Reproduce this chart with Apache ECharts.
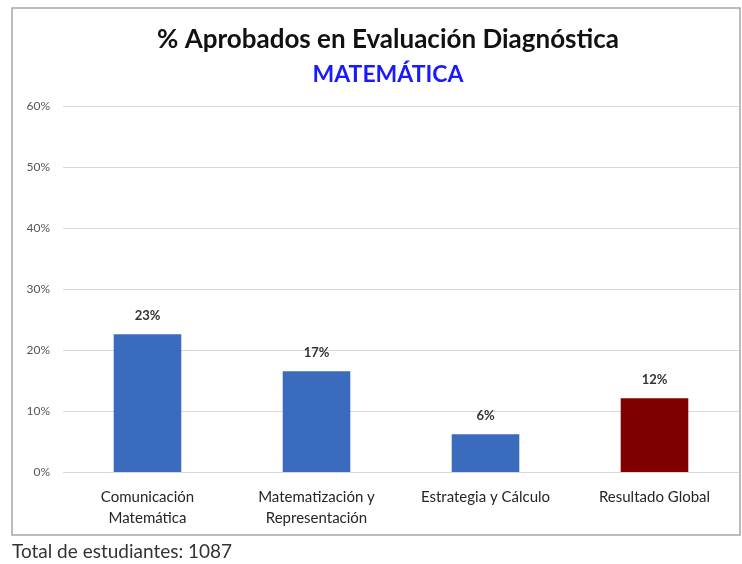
<!DOCTYPE html>
<html>
<head>
<meta charset="utf-8">
<script src="https://cdn.jsdelivr.net/npm/echarts@6/dist/echarts.min.js"></script>
<style>
  html, body { margin: 0; padding: 0; background: #fff; }
  #chart { width: 742px; height: 564px; }
</style>
</head>
<body>
<div id="chart"></div>
<script>
// categorias y valores (%)
var categorias = ['Comunicación\nMatemática', 'Matematización y\nRepresentación', 'Estrategia y Cálculo', 'Resultado Global'];
var valores = [22.6, 16.5, 6.2, 12.1];
var colores = ['#3b6bbd', '#3b6bbd', '#3b6bbd', '#7f0000'];
var ticksY = [0, 10, 20, 30, 40, 50, 60];
var totalEstudiantes = 1087;

var chart = echarts.init(document.getElementById('chart'));
var fuente = 'Lato, "Open Sans", sans-serif';

var option = {
  backgroundColor: '#fff',
  animation: false,
  title: [{
    text: '% Aprobados en Evaluación Diagnóstica',
    left: 383,
    textAlign: 'center',
    top: 22,
    textStyle: { fontFamily: fuente, fontSize: 26, fontWeight: 'bold', color: '#111' }
  }, {
    text: 'MATEMÁTICA',
    left: 383,
    textAlign: 'center',
    top: 58,
    textStyle: { fontFamily: fuente, fontSize: 23, fontWeight: 'bold', color: '#1a1aff' }
  }],
  grid: { left: 63, top: 106, width: 676, height: 366 },
  xAxis: {
    type: 'category',
    data: categorias,
    axisLine: { show: false },
    axisTick: { show: false },
    axisLabel: {
      interval: 0, margin: 15, color: '#262626', fontSize: 15, lineHeight: 21,
      fontFamily: fuente
    }
  },
  yAxis: {
    type: 'value',
    min: ticksY[0],
    max: ticksY[ticksY.length - 1],
    interval: 10,
    axisLine: { show: false },
    axisTick: { show: false },
    axisLabel: {
      formatter: '{value}%', color: '#555', fontSize: 12, margin: 13,
      fontFamily: fuente
    },
    splitLine: { lineStyle: { color: '#d9d9d9', width: 1.2 } }
  },
  series: [{
    type: 'bar',
    barWidth: '40%',
    data: valores.map(function (v, i) {
      return { value: v, itemStyle: { color: colores[i] } };
    }),
    label: {
      show: true, position: 'top', distance: 12,
      formatter: function (p) { return Math.round(p.value) + '%'; },
      color: '#333', fontSize: 13, fontWeight: 'bold', fontFamily: fuente
    }
  }],
  graphic: [{
    type: 'rect',
    shape: { x: 12, y: 8, width: 728, height: 527 },
    style: { fill: null, stroke: '#a6a6a6', lineWidth: 1.5 },
    silent: true
  }, {
    type: 'text',
    left: 12,
    top: 542,
    style: {
      text: 'Total de estudiantes: ' + totalEstudiantes,
      fill: '#333', fontSize: 19, fontFamily: fuente
    }
  }]
};

chart.setOption(option);
</script>
</body>
</html>
